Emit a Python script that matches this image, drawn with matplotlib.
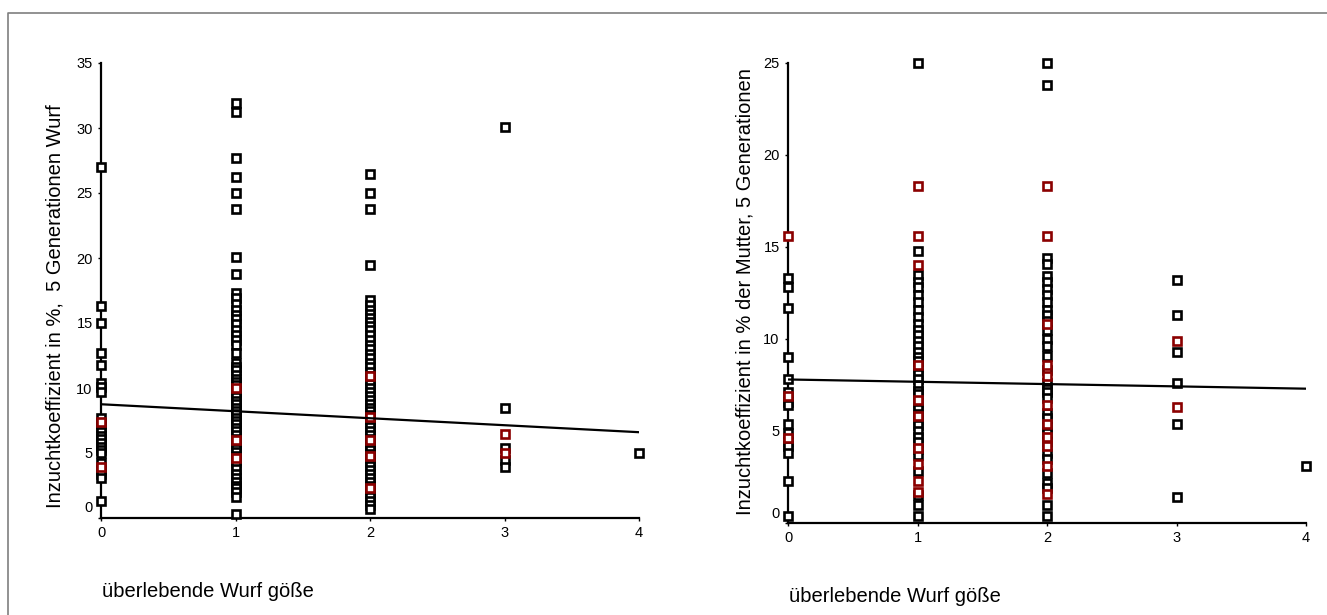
import numpy as np
import matplotlib
matplotlib.use('Agg')
import matplotlib.pyplot as plt
import matplotlib.transforms as mtrans
from matplotlib.lines import Line2D

plt.rcParams['font.family'] = ['Liberation Sans', 'DejaVu Sans']

# ---- left chart: inbreeding coefficient of the litter vs surviving litter size ----
left_black = {
    0: [27.0, 16.3, 15.0, 12.7, 11.8, 10.4, 10.1, 9.7, 7.7, 7.3, 7.0, 6.6, 6.3, 6.1,
        5.8, 5.5, 5.2, 5.0, 4.2, 3.7, 3.4, 3.1, 1.3],
    1: [31.9, 31.2, 27.7, 26.2, 25.0, 23.8, 20.1, 18.8, 17.3, 16.9, 16.5, 16.0, 15.6,
        15.3, 14.9, 14.5, 14.1, 13.7, 13.3, 12.7, 11.9, 11.6, 11.4, 11.0, 10.7, 10.5,
        10.2, 9.8, 9.6, 9.3, 9.0, 8.8, 8.5, 8.2, 8.0, 7.7, 7.5, 7.2, 6.9, 6.7, 6.4,
        6.1, 5.8, 5.6, 5.3, 5.1, 4.8, 4.5, 4.2, 3.8, 3.4, 3.1, 2.8, 2.5, 2.3, 2.0,
        1.6, 0.3],
    2: [26.5, 25.0, 23.8, 19.5, 16.8, 16.4, 16.0, 15.7, 15.4, 15.1, 14.8, 14.5, 14.1,
        13.7, 13.3, 13.0, 12.6, 12.3, 11.9, 11.6, 11.2, 10.9, 10.6, 10.3, 10.0, 9.7,
        9.4, 9.1, 8.8, 8.5, 8.2, 7.9, 7.6, 7.3, 7.0, 6.7, 6.4, 6.1, 5.8, 5.5, 5.2,
        4.9, 4.6, 4.3, 4.0, 3.7, 3.4, 3.1, 2.8, 2.5, 2.2, 1.9, 1.6, 1.3, 1.0, 0.7],
    3: [30.1, 8.5, 5.4, 4.5, 3.9],
    4: [5.0],
}
left_red = {
    0: [7.4, 3.9],
    1: [10.0, 6.0, 4.6],
    2: [10.9, 7.8, 6.0, 4.8, 2.3],
    3: [6.5, 5.0],
}
left_trend_x = [0, 4]
left_trend_y = [8.75, 6.6]

# ---- right chart: inbreeding coefficient of the mother vs surviving litter size ----
right_black = {
    0: [13.3, 12.8, 11.7, 9.0, 7.8, 7.1, 6.6, 6.4, 5.4, 4.9, 4.4, 4.2, 3.8, 2.3, 0.4],
    1: [25.0, 14.8, 13.5, 13.1, 12.8, 12.4, 12.0, 11.6, 11.2, 10.8, 10.5, 10.2, 9.9,
        9.6, 9.3, 9.0, 8.8, 8.4, 8.1, 7.8, 7.5, 7.2, 7.0, 6.5, 6.2, 5.9, 5.6, 5.3,
        5.0, 4.7, 4.4, 4.0, 3.7, 2.8, 1.5, 1.0, 0.4],
    2: [25.0, 23.8, 14.4, 14.1, 13.4, 13.1, 12.7, 12.4, 12.0, 11.6, 11.3, 11.0, 10.5,
        10.0, 9.6, 9.1, 8.3, 7.6, 7.3, 7.1, 6.8, 6.0, 5.7, 5.2, 4.9, 4.4, 3.8, 3.5,
        2.7, 2.2, 1.9, 1.0, 0.4],
    3: [13.2, 11.3, 9.3, 7.6, 5.4, 1.4],
    4: [3.1],
}
right_red = {
    0: [15.6, 6.9, 4.6],
    1: [18.3, 15.6, 14.0, 8.6, 6.7, 5.8, 4.1, 3.2, 2.3, 1.7],
    2: [18.3, 15.6, 10.8, 8.6, 8.0, 6.4, 5.4, 4.7, 4.2, 3.1, 1.6],
    3: [9.9, 6.3],
}
right_trend_x = [0, 4]
right_trend_y = [7.8, 7.3]

x_ticks = [0, 1, 2, 3, 4]
left_yticks = [0, 5, 10, 15, 20, 25, 30, 35]
right_yticks = [0, 5, 10, 15, 20, 25]
left_ylabel = 'Inzuchtkoeffizient in %,  5 Generationen Wurf'
right_ylabel = 'Inzuchtkoeffizient in % der Mutter, 5 Generationen'
xlabel = 'überlebende Wurf göße'

W, H = 1327, 615
fig = plt.figure(figsize=(W / 100, H / 100), dpi=100)

# outer frame (only left and top edge visible)
fig.add_artist(Line2D([8 / W, 8 / W, 1.0], [0.0, 1 - 13 / H, 1 - 13 / H],
                      transform=fig.transFigure, color='#7f7f7f', lw=1.2))

ax1 = fig.add_axes([101 / W, 1 - 518 / H, 538 / W, 455 / H])
ax2 = fig.add_axes([788 / W, 1 - 523 / H, 518 / W, 460 / H])


def draw_panel(ax, black, red, tx, ty, yticks):
    for k, vals in black.items():
        ax.plot([k] * len(vals), vals, 's', ms=5.2, mfc='white', mec='black',
                mew=1.9, clip_on=False, zorder=3)
    for k, vals in red.items():
        ax.plot([k] * len(vals), vals, 's', ms=5.2, mfc='white', mec='#8b0000',
                mew=1.9, clip_on=False, zorder=4)
    ax.plot(tx, ty, color='black', lw=1.6, zorder=5)
    ax.set_xlim(0, 4)
    ax.set_ylim(0, yticks[-1])
    ax.set_xticks(x_ticks)
    ax.set_yticks(yticks)
    for s in ['top', 'right']:
        ax.spines[s].set_visible(False)
    for s in ['left', 'bottom']:
        ax.spines[s].set_linewidth(1.6)
    ax.tick_params(length=2, width=1, labelsize=10.5, pad=4, colors='black')
    # zero label sits a bit above its tick, as in the original
    lab = ax.get_yticklabels()[0]
    lab.set_transform(lab.get_transform() +
                      mtrans.ScaledTranslation(0, 11 / 100, fig.dpi_scale_trans))


draw_panel(ax1, left_black, left_red, left_trend_x, left_trend_y, left_yticks)
draw_panel(ax2, right_black, right_red, right_trend_x, right_trend_y, right_yticks)

fig.text(55 / W, 1 - 306 / H, left_ylabel, rotation=90, ha='center', va='center',
         fontsize=14.5)
fig.text(745 / W, 1 - 292 / H, right_ylabel, rotation=90, ha='center', va='center',
         fontsize=14.5)
fig.text(102 / W, 1 - 597 / H, xlabel, ha='left', va='baseline', fontsize=14.5)
fig.text(789 / W, 1 - 602 / H, xlabel, ha='left', va='baseline', fontsize=14.5)

fig.savefig('out.png', dpi=100, facecolor='white')
